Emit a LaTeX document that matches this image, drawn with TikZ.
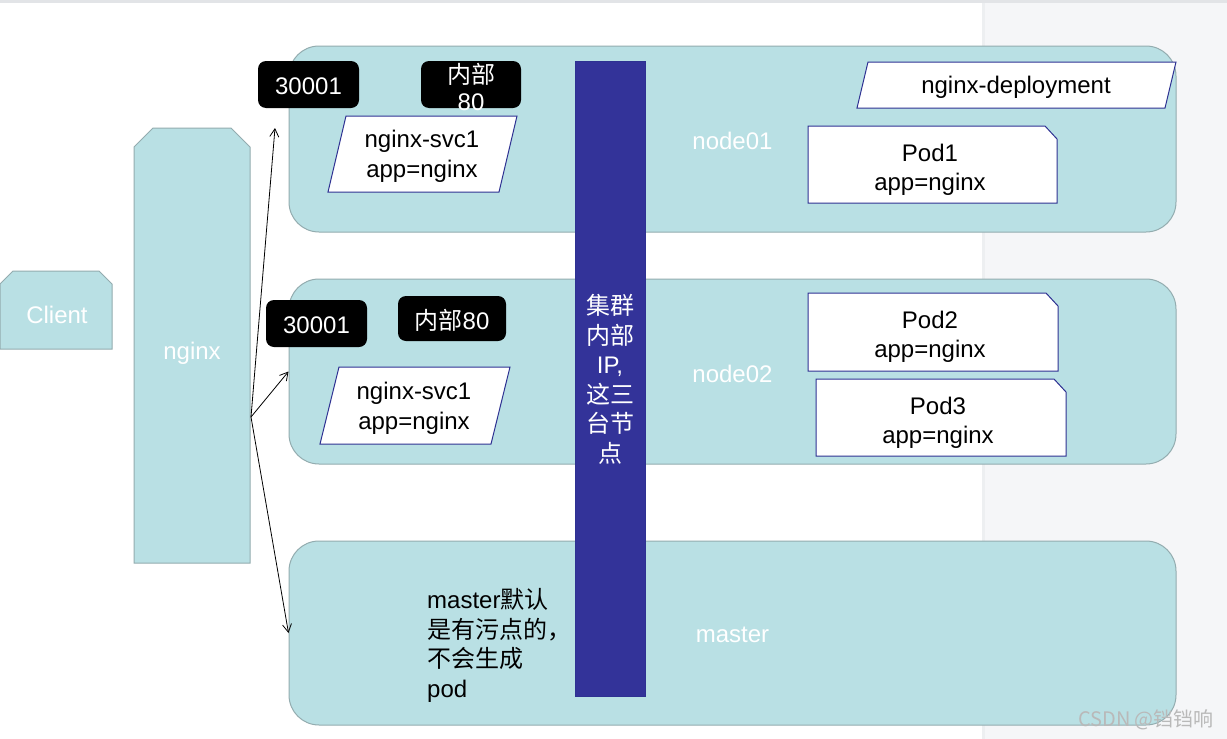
\documentclass[tikz,border=0pt]{standalone}
\usepackage{fontspec}
\setmainfont{Liberation Sans}
\newfontfamily\cjk{Noto Sans CJK SC}
\usetikzlibrary{arrows.meta}
\definecolor{tealfill}{RGB}{185,224,228}
\definecolor{tealline}{RGB}{147,172,175}
\definecolor{barnavy}{RGB}{51,51,153}
\definecolor{navyline}{RGB}{46,49,146}
\definecolor{graybg}{RGB}{245,246,248}
\definecolor{graytop}{RGB}{226,228,231}
\definecolor{wmgray}{RGB}{185,185,185}
\tikzset{
  big/.style={font=\fontsize{24}{29.5}\selectfont},
  hostbox/.style={draw=tealline, fill=tealfill, line width=1pt, rounded corners=30pt, text=white, big},
  tealshape/.style={draw=tealline, fill=tealfill, line width=1pt},
  whiteshape/.style={draw=navyline, fill=white, line width=1pt},
  blackbox/.style={fill=black, rounded corners=8pt, inner sep=0pt},
  lbl/.style={big, align=center, inner sep=0pt},
  wlbl/.style={big, align=center, inner sep=0pt, text=white},
  arr/.style={-{Straight Barb[length=8pt,width=9pt]}, line width=0.8pt, black},
}
\begin{document}
\begin{tikzpicture}[x=1pt,y=-1pt]
\useasboundingbox (0,0) rectangle (1227,739);
% background
\fill[graybg] (0,0) rectangle (1227,739);
\fill[graytop] (0,0) rectangle (1227,3);
\fill[white] (0,3) rectangle (982,739);
\fill[graytop!40!graybg] (982,3) rectangle (985,739);

% host boxes
\node[hostbox, minimum width=887pt, minimum height=186pt] (n01) at (732.5,139) {};
\node[wlbl] (n01t) at (732.5,140.5) {node01};
\node[hostbox, minimum width=887pt, minimum height=185pt] (n02) at (732.5,371.5) {};
\node[wlbl] (n02t) at (732.5,373.5) {node02};
\node[hostbox, minimum width=887pt, minimum height=184pt] (master) at (732.5,633) {};
\node[wlbl] (mastert) at (732.5,635) {master};

% client
\draw[tealshape] (0,349) -- (0,284) -- (13,271) -- (99,271) -- (112,284) -- (112,349) -- cycle;
\node[wlbl] (client) at (57,315) {Client};
% nginx
\draw[tealshape] (134,563) -- (134,147) -- (153,128) -- (231,128) -- (250,147) -- (250,563) -- cycle;
\node[wlbl] (nginx) at (192,353) {nginx};

% black port boxes
\node[blackbox, minimum width=101pt, minimum height=47pt] (port1) at (308.5,84.5) {};
\node[wlbl] (port1t) at (308.5,86) {30001};
\node[blackbox, minimum width=100pt, minimum height=47pt] (in1) at (471,84.5) {};
\node[wlbl, font=\fontsize{24}{27}\selectfont] (in1t) at (471,86.5) {{\cjk 内部}\\80};
\node[blackbox, minimum width=101pt, minimum height=47pt] (port2) at (316.5,323.5) {};
\node[wlbl] (port2t) at (316.5,325) {30001};
\node[blackbox, minimum width=108pt, minimum height=45pt] (in2) at (452,318.5) {};
\node[wlbl] (in2t) at (452,320) {{\cjk 内部}80};

% services
\draw[whiteshape] (346,116) -- (517,116) -- (499,192) -- (328,192) -- cycle;
\node[lbl] (svc1) at (422,156.5) {nginx-svc1\\app=nginx};
\draw[whiteshape] (339,367) -- (510,367) -- (491,444) -- (320,444) -- cycle;
\node[lbl] (svc2) at (414,408.5) {nginx-svc1\\app=nginx};
\draw[whiteshape] (868,62) -- (1176,62) -- (1165,108) -- (857,108) -- cycle;
\node[lbl] (deploy) at (1016,87) {nginx-deployment};

% pods
\draw[whiteshape] (808,126) -- (1045,126) -- (1057,139) -- (1057,203) -- (808,203) -- cycle;
\node[lbl] (pod1) at (930,170) {Pod1\\app=nginx};
\draw[whiteshape] (808,293) -- (1046,293) -- (1058,306) -- (1058,371) -- (808,371) -- cycle;
\node[lbl] (pod2) at (930,337) {Pod2\\app=nginx};
\draw[whiteshape] (816,379) -- (1054,379) -- (1066,392) -- (1066,456) -- (816,456) -- cycle;
\node[lbl] (pod3) at (938,423) {Pod3\\app=nginx};

% cluster bar
\node[fill=barnavy, draw=navyline, line width=0.8pt, minimum width=70pt, minimum height=635pt, inner sep=0pt] (bar) at (610,378.5) {};
\node[wlbl] (bartext) at (610,379.5) {{\cjk 集群}\\{\cjk 内部}\\IP,\\{\cjk 这三}\\{\cjk 台节}\\{\cjk 点}};

% master note
\node[big, align=left, inner sep=0pt, anchor=west] (note) at (427,645.5) {master{\cjk 默认}\\{\cjk 是有污点的，}\\{\cjk 不会生成}\\pod};

% arrows
\coordinate (src) at (251,417);
\coordinate (t1) at (275,128);
\draw[arr] (src) -- (t1);
\draw[arr] (src) -- (n02.west);
\draw[arr] (src) -- (master.west);

% watermark
\node[font=\cjk\fontsize{20}{22}\selectfont, text=wmgray, inner sep=0pt] (wm) at (1146,720) {CSDN @铛铛响};
\end{tikzpicture}
\end{document}
